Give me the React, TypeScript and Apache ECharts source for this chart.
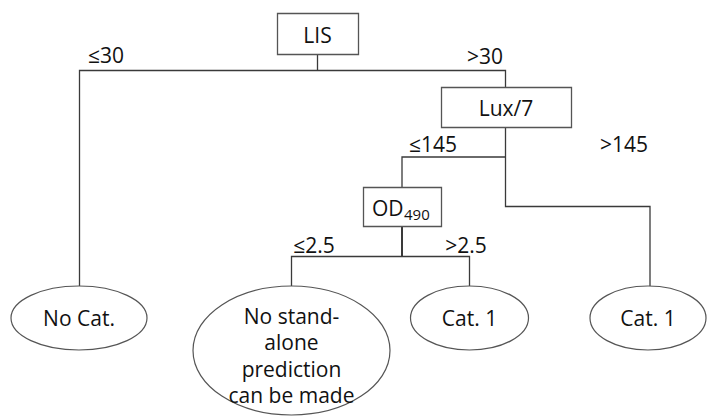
import React, { useEffect, useRef } from "react";
import * as echarts from "echarts";

// Node labels
const boxLabels = ["LIS", "Lux/7", "OD"];
const odSubscript = "490";
const leafLabels = ["No Cat.", "No stand-\nalone\nprediction\ncan be made", "Cat. 1", "Cat. 1"];
// Edge (split) labels
const splitLabels = ["≤30", ">30", "≤145", ">145", "≤2.5", ">2.5"];

// Layout (positions in px)
const boxLayout = [
  { x: 277, y: 13, w: 81, h: 41 },
  { x: 441, y: 87, w: 130, h: 40 },
  { x: 363, y: 187, w: 78, h: 39 },
];
const leafLayout = [
  { cx: 79, cy: 318, rx: 68, ry: 32 },
  { cx: 291.5, cy: 350.5, rx: 98.5, ry: 64.5 },
  { cx: 469.5, cy: 318, rx: 59, ry: 32 },
  { cx: 648, cy: 318, rx: 58, ry: 32 },
];
const splitLayout = [
  [106, 55],
  [485, 56],
  [433, 144],
  [624, 144],
  [314, 245],
  [466, 245],
];
const edgeLayout: { pts: number[][]; w: number }[] = [
  { pts: [[317.5, 54], [317.5, 70.5]], w: 1.3 },
  { pts: [[79.5, 286], [79.5, 70.5], [505.5, 70.5], [505.5, 87]], w: 1.3 },
  { pts: [[505.5, 127], [505.5, 206.5], [650, 206.5], [650, 286]], w: 1.3 },
  { pts: [[505.5, 157], [402, 157], [402, 187]], w: 1.3 },
  { pts: [[402, 226], [402, 256.5]], w: 2 },
  { pts: [[291.5, 286], [291.5, 256.5], [469.5, 256.5], [469.5, 286]], w: 1.3 },
];

const FONT = "'Open Sans', 'Noto Sans', sans-serif";
const LINE = "#3a3a3a";
const TXT = "#111";

export default function App() {
  const ref = useRef<HTMLDivElement>(null);
  useEffect(() => {
    if (!ref.current) return;
    const chart = echarts.init(ref.current, undefined, { renderer: "svg" });
    const elements: any[] = [];

    edgeLayout.forEach((e) => {
      elements.push({
        type: "polyline",
        shape: { points: e.pts },
        style: { stroke: LINE, lineWidth: e.w, fill: null },
      });
    });

    boxLayout.forEach((b, i) => {
      elements.push({
        type: "rect",
        shape: { x: b.x + 0.5, y: b.y + 0.5, width: b.w, height: b.h },
        style: { stroke: "#555", lineWidth: 1.3, fill: "#fff" },
      });
      if (i < 2) {
        elements.push({
          type: "text",
          x: b.x + b.w / 2,
          y: b.y + b.h / 2 + 1,
          style: {
            text: boxLabels[i],
            font: `21px ${FONT}`,
            fill: TXT,
            align: "center",
            verticalAlign: "middle",
          },
        });
      }
    });

    // OD with subscript
    const od = boxLayout[2];
    elements.push({
      type: "text",
      x: od.x + 9,
      y: od.y + od.h / 2 + 1,
      style: {
        text: boxLabels[2],
        font: `21px ${FONT}`,
        fill: TXT,
        align: "left",
        verticalAlign: "middle",
      },
    });
    elements.push({
      type: "text",
      x: od.x + 41,
      y: od.y + od.h / 2 + 7,
      style: {
        text: odSubscript,
        font: `15px ${FONT}`,
        fill: TXT,
        align: "left",
        verticalAlign: "middle",
      },
    });

    leafLayout.forEach((l, i) => {
      elements.push({
        type: "ellipse",
        shape: { cx: l.cx, cy: l.cy, rx: l.rx, ry: l.ry },
        style: { stroke: "#555", lineWidth: 1.2, fill: "#fff" },
      });
      elements.push({
        type: "text",
        x: l.cx,
        y: i === 1 ? l.cy + 5 : l.cy,
        style: {
          text: leafLabels[i],
          font: `21px ${FONT}`,
          lineHeight: 26.3,
          fill: TXT,
          align: "center",
          verticalAlign: "middle",
        },
      });
    });

    splitLabels.forEach((s, i) => {
      elements.push({
        type: "text",
        x: splitLayout[i][0],
        y: splitLayout[i][1],
        style: {
          text: s,
          font: `21px ${FONT}`,
          fill: TXT,
          align: "center",
          verticalAlign: "middle",
        },
      });
    });

    chart.setOption({
      animation: false,
      backgroundColor: "#fff",
      graphic: { elements },
    });
    return () => chart.dispose();
  }, []);
  return (
    <div
      ref={ref}
      style={{ position: "absolute", left: 0, top: 0, width: 707, height: 417 }}
    />
  );
}
